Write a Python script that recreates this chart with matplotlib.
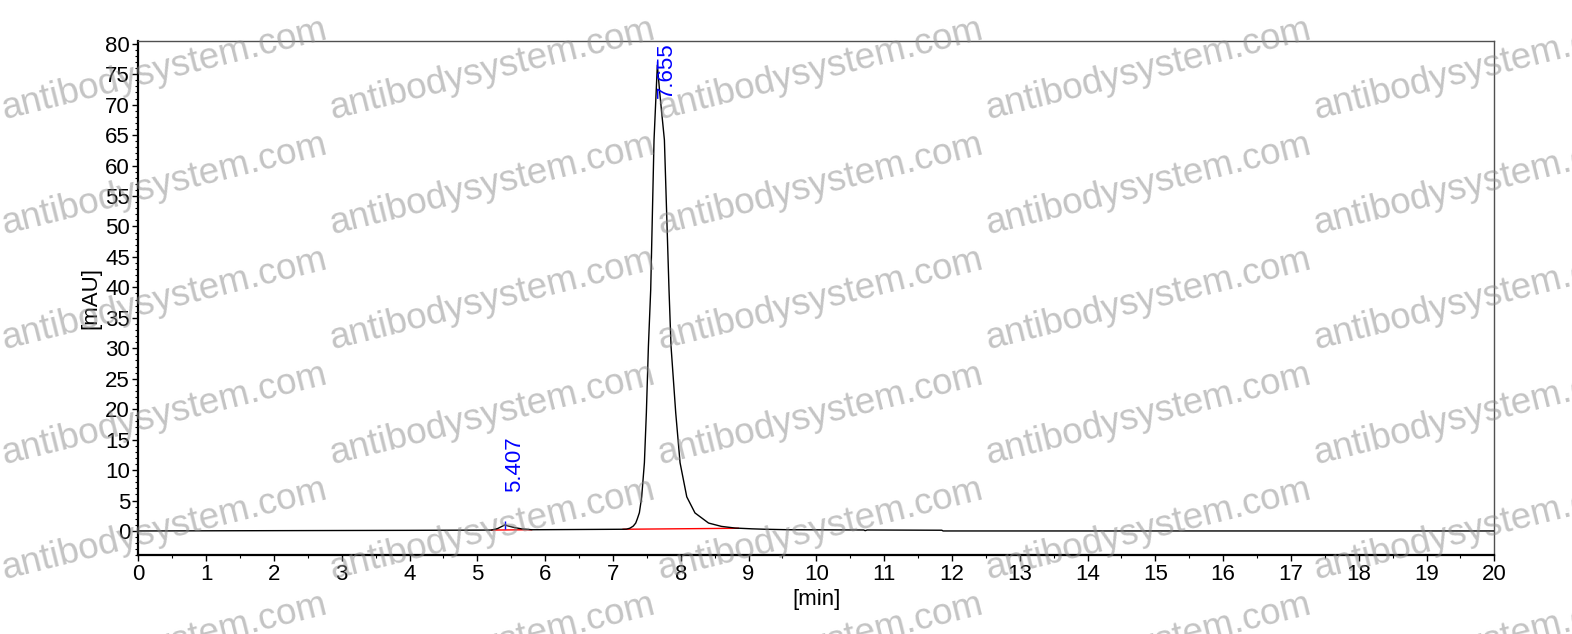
import matplotlib
matplotlib.use("Agg")
import matplotlib.pyplot as plt
from matplotlib.ticker import MultipleLocator

plt.rcParams['font.family'] = ['Liberation Sans', 'DejaVu Sans']

# chromatogram trace (min, mAU)
time_min = [0.0, 4.0, 5.0, 5.21, 5.30, 5.407, 5.46, 5.55, 5.65, 5.80, 7.15, 7.20,
            7.25, 7.30, 7.336, 7.36, 7.39, 7.424, 7.464, 7.493, 7.523, 7.557,
            7.606, 7.635, 7.655, 7.690, 7.759, 7.827, 7.857, 7.926, 7.99, 8.089,
            8.21, 8.41, 8.60, 8.80, 9.05, 9.24, 9.60, 10.70, 10.72, 10.75, 11.85,
            11.87, 20.0]
signal_mau = [0.0, 0.10, 0.14, 0.15, 0.40, 1.00, 0.80, 0.55, 0.35, 0.20, 0.28, 0.30,
              0.45, 0.80, 1.30, 2.00, 3.00, 5.60, 11.2, 19.4, 30.3, 39.6,
              64.2, 71.5, 76.5, 72.0, 64.2, 39.6, 30.3, 19.4, 11.2, 5.60,
              2.96, 1.30, 0.75, 0.48, 0.35, 0.28, 0.20, 0.16, 0.05, 0.16, 0.12,
              0.0, 0.0]

# integration baselines (red)
base1_t = [5.21, 5.80]
base1_v = [0.15, 0.20]
base2_t = [7.15, 8.85]
base2_v = [0.28, 0.44]

# peak labels
peak_rt = [5.407, 7.655]
peak_top = [1.0, 76.5]
peak_label_y = [6.4, 71.1]
peak_labels = ["5.407", "7.655"]

fig = plt.figure(figsize=(15.72, 6.34), dpi=100)
ax = fig.add_axes([0.088, 0.1241, 0.8626, 0.8117])

ax.plot(time_min, signal_mau, color='black', lw=1.0, zorder=3)
ax.plot(base1_t, base1_v, color='red', lw=1.0, zorder=2)
ax.plot(base2_t, base2_v, color='red', lw=1.0, zorder=2)
ax.plot(peak_rt, peak_top, linestyle='none', marker='|', color='blue',
        markersize=6, markeredgewidth=1.0, zorder=4)

for rt, ly, lab in zip(peak_rt, peak_label_y, peak_labels):
    ax.text(rt + 0.14, ly, lab, rotation=90, color='blue', fontsize=16,
            ha='center', va='bottom', zorder=5)

ax.set_xlim(0, 20)
ax.set_ylim(-4.0, 80.5)
ax.xaxis.set_major_locator(MultipleLocator(1))
ax.xaxis.set_minor_locator(MultipleLocator(0.5))
ax.yaxis.set_major_locator(MultipleLocator(5))
ax.yaxis.set_minor_locator(MultipleLocator(1))
ax.tick_params(axis='both', which='major', direction='out', length=4, width=1,
               labelsize=16, pad=2)
ax.tick_params(axis='both', which='minor', direction='out', length=2, width=0.8)

ax.set_xlabel('[min]', fontsize=16, labelpad=3)
ax.set_ylabel('[mAU]', fontsize=16, labelpad=3)

for side in ['left', 'bottom']:
    ax.spines[side].set_linewidth(1.6)
    ax.spines[side].set_color('black')
for side in ['top', 'right']:
    ax.spines[side].set_linewidth(1.0)
    ax.spines[side].set_color('#505050')

# watermark grid
wm_x = [164, 492, 820, 1148, 1476]
wm_y = [70, 185, 300, 415, 530, 645]
for px in wm_x:
    for py in wm_y:
        fig.text(px / 1572, 1 - py / 634, 'antibodysystem.com', rotation=14,
                 rotation_mode='anchor', ha='center', va='center',
                 fontsize=26.5, color='#8a8a8a', alpha=0.5, zorder=10)

fig.savefig('out.png', dpi=100)
